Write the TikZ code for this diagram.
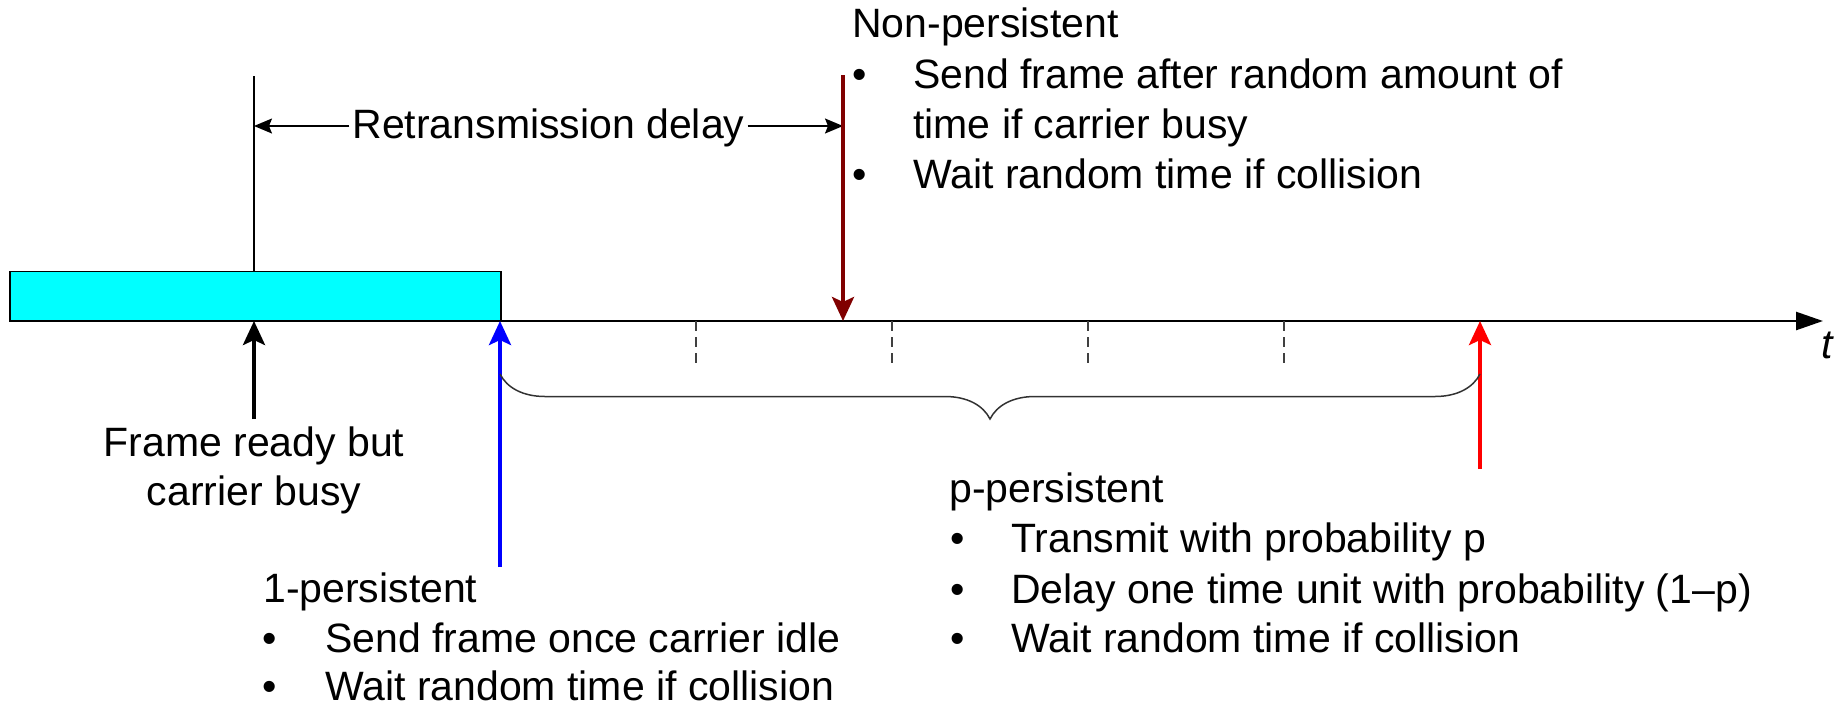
\documentclass[tikz,border=0pt]{standalone}
\usepackage{fontspec}
\setmainfont{Liberation Sans}
\usetikzlibrary{arrows.meta,decorations.pathreplacing}
\definecolor{npred}{RGB}{128,0,0}
\definecolor{busycyan}{RGB}{0,255,255}
\definecolor{braceclr}{RGB}{50,50,50}

\begin{document}
\begin{tikzpicture}[x=1pt,y=-1pt,
  lbl/.style={inner sep=0pt, anchor=base west, font=\fontsize{41}{50}\selectfont},
  clbl/.style={inner sep=0pt, anchor=base, font=\fontsize{41}{50}\selectfont},
  bul/.style={inner sep=0pt, anchor=base, font=\fontsize{41}{50}\selectfont},
  marker/.style={line width=4pt, -{Stealth[length=24pt,width=22pt,inset=5pt]}},
  thinline/.style={line width=1.5pt},
  delayarrow/.style={line width=1.5pt, -{Stealth[length=18pt,width=15pt,inset=3pt]}},
  tickline/.style={line width=1.4pt, draw=black!75, dash pattern=on 10pt off 6pt},
]
\useasboundingbox (0,0) rectangle (1843,707);

% busy carrier block and time axis
\node[draw, fill=busycyan, line width=1.5pt, inner sep=0pt, minimum width=491pt,
      minimum height=49pt, anchor=south west] (busy) at (9,321) {};
\coordinate (t0) at (9,321);
\coordinate (tend) at (1823,321);
\draw[line width=2.5pt, -{Triangle[length=27pt,width=18pt]}] (t0) -- (tend);
\node[lbl, font=\fontsize{41}{50}\selectfont\itshape] (tlabel) at (1821,358) {t};

% slot ticks
\foreach \x [count=\i] in {696,892,1088,1284} {
  \coordinate (tk\i a) at (\x,321);
  \coordinate (tk\i b) at (\x,367);
  \draw[tickline] (tk\i a) -- (tk\i b);
}

% retransmission delay
\coordinate (vtop) at (254,76);
\coordinate (vbot) at (254,272);
\draw[thinline] (vtop) -- (vbot);
\coordinate (rdL) at (254,126);
\coordinate (rdR) at (843,126);
\node[clbl, fill=white, inner xsep=3pt] (rdlabel) at (548.5,138) {Retransmission delay};
\draw[delayarrow] (rdlabel.west |- rdL) -- (rdL);
\draw[delayarrow] (rdlabel.east |- rdR) -- (rdR);

% event arrows
\coordinate (readyA) at (254,419);
\coordinate (readyB) at (254,321);
\draw[marker, black] (readyA) -- (readyB);

\coordinate (oneA) at (500,567);
\coordinate (oneB) at (500,321);
\draw[marker, blue] (oneA) -- (oneB);

\coordinate (npA) at (843,75);
\coordinate (npB) at (843,321);
\draw[marker, npred] (npA) -- (npB);

\coordinate (ppA) at (1480,469);
\coordinate (ppB) at (1480,321);
\draw[marker, red] (ppA) -- (ppB);

% brace over the slots
\coordinate (brR) at (1480,374);
\coordinate (brL) at (500,374);
\draw[line width=1.5pt, draw=braceclr, decorate, decoration={brace, amplitude=45pt}] (brR) -- (brL);

% labels: frame ready
\node[clbl] (fr1) at (254,456) {Frame ready but};
\node[clbl] (fr2) at (254,505) {carrier busy};

% Non-persistent
\node[lbl] (npt) at (852,37) {Non-persistent};
\node[bul] (npb1) at (860,88) {•};
\node[lbl] (np1) at (913,88) {Send frame after random amount of};
\node[lbl] (np2) at (913,138) {time if carrier busy};
\node[bul] (npb2) at (860,188) {•};
\node[lbl] (np3) at (913,188) {Wait random time if collision};

% 1-persistent
\node[lbl] (opt) at (263,602) {1-persistent};
\node[bul] (opb1) at (270,652) {•};
\node[lbl] (op1) at (325,652) {Send frame once carrier idle};
\node[bul] (opb2) at (270,700) {•};
\node[lbl] (op2) at (325,700) {Wait random time if collision};

% p-persistent
\node[lbl] (ppt) at (949,502) {p-persistent};
\node[bul] (ppb1) at (958,552) {•};
\node[lbl] (pp1) at (1011,552) {Transmit with probability p};
\node[bul] (ppb2) at (958,603) {•};
\node[lbl] (pp2) at (1011,603) {Delay one time unit with probability (1–p)};
\node[bul] (ppb3) at (958,652) {•};
\node[lbl] (pp3) at (1011,652) {Wait random time if collision};
\end{tikzpicture}
\end{document}
